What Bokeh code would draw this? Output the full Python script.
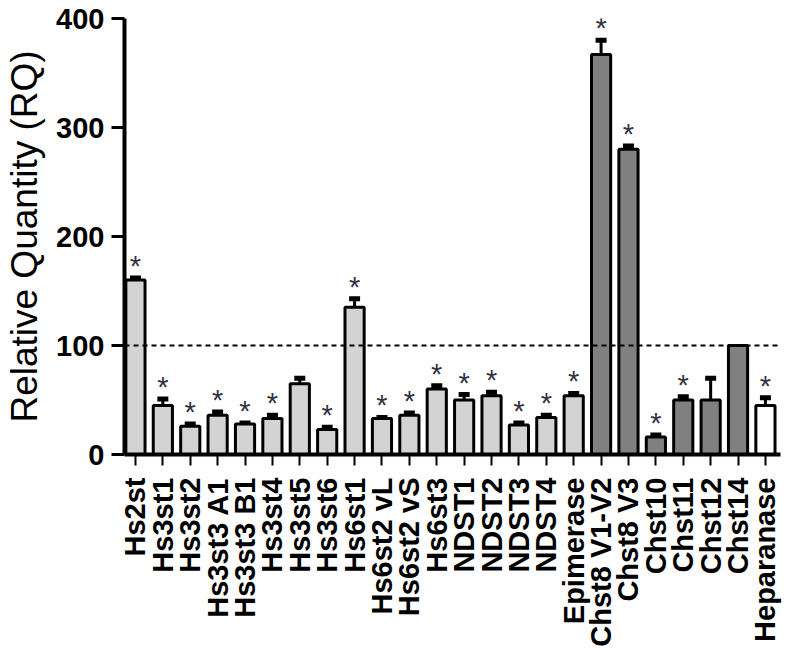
import numpy as np
from bokeh.plotting import figure
from bokeh.models import Range1d, FixedTicker, Span, Whisker, ColumnDataSource
from bokeh.core.properties import value
from bokeh.embed import file_html
from bokeh.resources import INLINE

categories = ["Hs2st", "Hs3st1", "Hs3st2", "Hs3st3 A1", "Hs3st3 B1", "Hs3st4", "Hs3st5",
              "Hs3st6", "Hs6st1", "Hs6st2 vL", "Hs6st2 vS", "Hs6st3", "NDST1", "NDST2",
              "NDST3", "NDST4", "Epimerase", "Chst8 V1-V2", "Chst8 V3", "Chst10", "Chst11",
              "Chst12", "Chst14", "Heparanase"]
rq_values = [160, 45, 26, 36, 28, 33, 65, 23, 135, 33, 36, 60, 50, 54, 27, 34, 54,
             367, 280, 16, 50, 50, 100, 45]
rq_errors = [2, 6, 2, 3, 1, 3, 5, 2, 8, 1, 2, 3, 5, 3, 2, 2, 2, 13, 3, 2, 3, 20, 0, 7]
groups = ["HS"] * 17 + ["CS"] * 6 + ["Hep"]
significant = [1, 1, 1, 1, 1, 1, 0, 1, 1, 1, 1, 1, 1, 1, 1, 1, 1, 1, 1, 1, 1, 0, 0, 1]
y_ticks = [0, 100, 200, 300, 400]
reference_level = 100

group_colors = {"HS": "#d3d3d3", "CS": "#808080", "Hep": "#ffffff"}

x = list(range(len(categories)))
src = ColumnDataSource(dict(
    x=x,
    top=rq_values,
    color=[group_colors[g] for g in groups],
))

p = figure(width=789, height=660, x_range=Range1d(-0.4, 23.55), y_range=Range1d(0, 400),
           output_backend="svg", toolbar_location=None,
           min_border_left=124, min_border_right=9, min_border_top=18, min_border_bottom=206)
p.outline_line_color = None
p.grid.visible = False
p.background_fill_color = "white"

# error bars (upper only)
err_idx = [i for i, e in enumerate(rq_errors) if e > 0]
esrc = ColumnDataSource(dict(
    x=[x[i] for i in err_idx],
    lower=[rq_values[i] for i in err_idx],
    upper=[rq_values[i] + rq_errors[i] for i in err_idx],
))
w = Whisker(base="x", lower="lower", upper="upper", source=esrc, dimension="height",
            line_color="black", line_width=3, level="underlay")
w.upper_head.size = 11
w.upper_head.line_width = 5
w.upper_head.line_color = "black"
w.lower_head = None
p.add_layout(w)

p.vbar(x="x", top="top", bottom=0, width=0.7, source=src, fill_color="color",
       line_color="black", line_width=3)

p.add_layout(Span(location=reference_level, dimension="width", line_color="black",
                  line_width=1.8, line_dash="5 4"))

# asterisks
sig_idx = [i for i, s in enumerate(significant) if s]
ssrc = ColumnDataSource(dict(
    x=[x[i] for i in sig_idx],
    y=[rq_values[i] + rq_errors[i] for i in sig_idx],
    t=["*"] * len(sig_idx),
))
p.text(x="x", y="y", text="t", source=ssrc, text_align="center", text_baseline="middle",
       y_offset=-12, text_font=value("Liberation Sans"), text_font_size="29px",
       text_color="#333344")

# y axis
p.yaxis.ticker = FixedTicker(ticks=y_ticks)
p.yaxis.minor_tick_line_color = None
p.yaxis.major_tick_out = 13
p.yaxis.major_tick_in = 0
p.yaxis.major_tick_line_width = 3
p.yaxis.axis_line_width = 4
p.yaxis.major_label_text_font = "Liberation Sans"
p.yaxis.major_label_text_font_style = "bold"
p.yaxis.major_label_text_font_size = "29px"
p.yaxis.major_label_text_color = "black"
p.yaxis.major_label_standoff = 7
p.yaxis.axis_label = "Relative Quantity (RQ)"
p.yaxis.axis_label_text_font = "Liberation Sans"
p.yaxis.axis_label_text_font_style = "normal"
p.yaxis.axis_label_text_font_size = "37px"
p.yaxis.axis_label_text_color = "black"
p.yaxis.axis_label_standoff = 8

# x axis
p.xaxis.ticker = FixedTicker(ticks=x)
p.xaxis.major_label_overrides = {i: c for i, c in zip(x, categories)}
p.xaxis.minor_tick_line_color = None
p.xaxis.major_tick_out = 11
p.xaxis.major_tick_in = 0
p.xaxis.major_tick_line_width = 2
p.xaxis.axis_line_width = 4
p.xaxis.major_label_orientation = np.pi / 2
p.xaxis.major_label_text_font = "Liberation Sans"
p.xaxis.major_label_text_font_style = "bold"
p.xaxis.major_label_text_font_size = "29px"
p.xaxis.major_label_text_color = "black"
p.xaxis.major_label_standoff = 12

open("out.html", "w").write(file_html(p, INLINE))
